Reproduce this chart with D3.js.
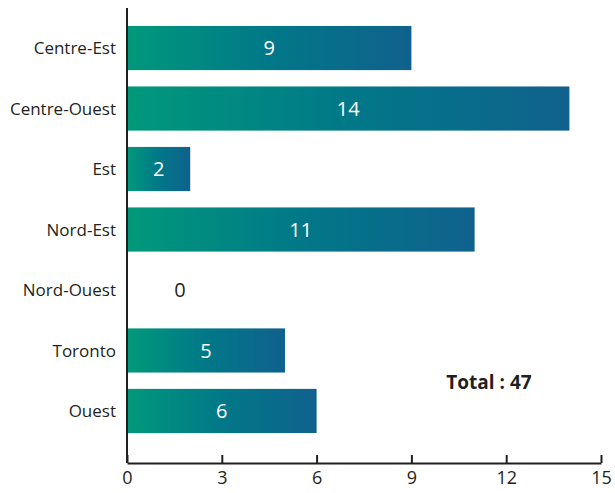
<!DOCTYPE html>
<html>
<head>
<meta charset="utf-8">
<script src="https://cdn.jsdelivr.net/npm/d3@7"></script>
<style>
  body { margin: 0; background: #fff; }
  text { font-family: "Open Sans", sans-serif; }
</style>
</head>
<body>
<svg width="615" height="493"></svg>
<script>
// data
var regions = ["Centre-Est", "Centre-Ouest", "Est", "Nord-Est", "Nord-Ouest", "Toronto", "Ouest"];
var counts = [9, 14, 2, 11, 0, 5, 6];
var xTicks = [0, 3, 6, 9, 12, 15];
var totalLabel = "Total : 47";

var svg = d3.select("svg");
var axisY = 463;

var x = d3.scaleLinear().domain([0, 15]).range([127, 601]);
var y = d3.scaleBand().domain(regions).range([17.8, 441.2])
  .paddingInner(0.27).paddingOuter(0.135);

// gradient across each bar
var grad = svg.append("defs").append("linearGradient")
  .attr("id", "barGrad")
  .attr("x1", "0%").attr("x2", "100%").attr("y1", "0%").attr("y2", "0%");
grad.append("stop").attr("offset", "0%").attr("stop-color", "#00997b");
grad.append("stop").attr("offset", "50%").attr("stop-color", "#017888");
grad.append("stop").attr("offset", "100%").attr("stop-color", "#10618d");

var data = regions.map(function (r, i) { return { region: r, value: counts[i] }; });

svg.append("g")
  .selectAll("rect")
  .data(data.filter(function (d) { return d.value > 0; }))
  .enter()
  .append("rect")
  .attr("x", x(0))
  .attr("y", function (d) { return y(d.region); })
  .attr("width", function (d) { return x(d.value) - x(0); })
  .attr("height", y.bandwidth())
  .attr("fill", "url(#barGrad)");

// value labels
svg.append("g")
  .selectAll("text")
  .data(data)
  .enter()
  .append("text")
  .attr("x", function (d) { return d.value > 0 ? (x(0) + x(d.value)) / 2 : x(0) + 53; })
  .attr("y", function (d) { return y(d.region) + y.bandwidth() / 2; })
  .attr("dy", "0.36em")
  .attr("text-anchor", "middle")
  .style("font-size", "20px")
  .style("fill", function (d) { return d.value > 0 ? "#ffffff" : "#231f20"; })
  .text(function (d) { return d.value; });

// category labels
svg.append("g")
  .selectAll("text")
  .data(regions)
  .enter()
  .append("text")
  .attr("x", x(0) - 11)
  .attr("y", function (d) { return y(d) + y.bandwidth() / 2; })
  .attr("dy", "0.36em")
  .attr("text-anchor", "end")
  .style("font-size", "17px")
  .style("fill", "#231f20")
  .text(function (d) { return d; });

// left axis line
svg.append("line")
  .attr("x1", x(0)).attr("x2", x(0))
  .attr("y1", 8).attr("y2", axisY)
  .attr("stroke", "#231f20").attr("stroke-width", 2);

// bottom axis with ticks pointing up
var xAxis = svg.append("g")
  .attr("transform", "translate(0," + axisY + ")")
  .call(d3.axisBottom(x).tickValues(xTicks).tickSizeInner(-8).tickSizeOuter(0).tickPadding(8));
xAxis.select(".domain").attr("stroke", "#231f20").attr("stroke-width", 2);
xAxis.selectAll(".tick line").attr("stroke", "#231f20").attr("stroke-width", 2);
xAxis.selectAll(".tick text")
  .style("font-family", "'Open Sans', sans-serif")
  .style("font-size", "18px")
  .style("fill", "#231f20");

svg.append("text")
  .attr("x", 489)
  .attr("y", 382)
  .attr("dy", "0.36em")
  .attr("text-anchor", "middle")
  .style("font-size", "19px")
  .style("font-weight", "bold")
  .style("fill", "#231f20")
  .text(totalLabel);
</script>
</body>
</html>
